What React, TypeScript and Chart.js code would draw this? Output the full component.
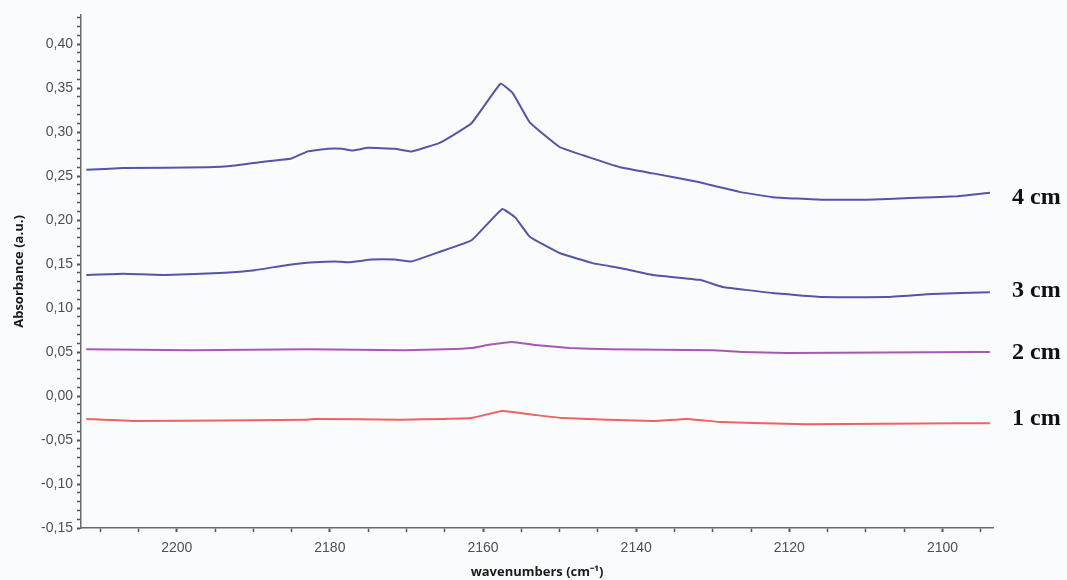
import React, { useEffect, useRef } from "react";
import { Chart, registerables } from "chart.js";

Chart.register(...registerables);

// wavenumber (cm-1), absorbance (a.u.)
const x4cm = [2211.8, 2207.0, 2195.9, 2192.4, 2188.9, 2185.0, 2182.9, 2180.3, 2178.4, 2177.1, 2175.0, 2171.5, 2169.3, 2165.6, 2161.5, 2157.7, 2156.1, 2153.9, 2150.0, 2146.4, 2142.1, 2137.8, 2131.7, 2130.4, 2126.5, 2122.2, 2115.6, 2109.9, 2104.3, 2098.1, 2093.8];
const y4cm = [0.257, 0.259, 0.260, 0.262, 0.266, 0.270, 0.278, 0.281, 0.281, 0.279, 0.282, 0.281, 0.278, 0.288, 0.310, 0.355, 0.344, 0.311, 0.283, 0.272, 0.260, 0.253, 0.243, 0.240, 0.232, 0.226, 0.223, 0.223, 0.225, 0.227, 0.231];

const x3cm = [2211.8, 2207.0, 2201.5, 2193.7, 2189.8, 2185.5, 2182.0, 2179.3, 2177.6, 2174.5, 2171.5, 2169.3, 2165.6, 2161.5, 2157.5, 2155.8, 2153.9, 2150.0, 2145.7, 2142.1, 2137.8, 2131.7, 2128.7, 2122.2, 2115.6, 2107.3, 2101.3, 2093.8];
const y3cm = [0.1375, 0.139, 0.1375, 0.140, 0.143, 0.149, 0.152, 0.153, 0.152, 0.155, 0.155, 0.153, 0.164, 0.177, 0.2125, 0.203, 0.181, 0.1625, 0.151, 0.1455, 0.1375, 0.132, 0.124, 0.117, 0.1125, 0.1125, 0.116, 0.118];

const x2cm = [2211.8, 2198.0, 2182.9, 2170.2, 2165.0, 2161.5, 2159.4, 2156.2, 2153.2, 2148.7, 2143.4, 2130.0, 2126.1, 2120.3, 2095.5, 2093.8];
const y2cm = [0.053, 0.052, 0.053, 0.052, 0.053, 0.0545, 0.058, 0.0615, 0.058, 0.0545, 0.053, 0.052, 0.050, 0.049, 0.050, 0.050];

const x1cm = [2211.8, 2205.2, 2182.9, 2182.0, 2170.6, 2165.0, 2161.5, 2157.5, 2153.2, 2149.6, 2137.8, 2133.4, 2129.1, 2117.7, 2097.7, 2093.8];
const y1cm = [-0.026, -0.0285, -0.027, -0.026, -0.027, -0.026, -0.025, -0.017, -0.0215, -0.025, -0.0285, -0.026, -0.0295, -0.032, -0.031, -0.031];

const seriesLabels = ["4 cm", "3 cm", "2 cm", "1 cm"];
const seriesColors = ["#5454a8", "#5454a8", "#a45ab4", "#ee6262"];

const toPts = (xs: number[], ys: number[]) => xs.map((x, i) => ({ x, y: ys[i] }));

export default function App() {
  const ref = useRef<HTMLCanvasElement | null>(null);

  useEffect(() => {
    document.body.style.margin = "0";
    if (!ref.current) return;

    const bgPlugin = {
      id: "bg",
      beforeDraw(chart: any) {
        const ctx = chart.ctx;
        ctx.save();
        ctx.fillStyle = "#fafbfd";
        ctx.fillRect(0, 0, chart.width, chart.height);
        ctx.restore();
      },
    };

    const labelNudge = [4, -2, 0, -5];
    const endLabels = {
      id: "endLabels",
      afterDatasetsDraw(chart: any) {
        const ctx = chart.ctx;
        const ys = chart.scales.y;
        ctx.save();
        ctx.font = "bold 24px 'Liberation Serif', 'Times New Roman', serif";
        ctx.fillStyle = "#111";
        ctx.textBaseline = "middle";
        ctx.textAlign = "left";
        chart.data.datasets.forEach((ds: any, i: number) => {
          const last = ds.data[ds.data.length - 1];
          const py = ys.getPixelForValue(last.y);
          ctx.fillText(ds.label, chart.chartArea.right + 19, py + 1 + labelNudge[i]);
        });
        ctx.restore();
      },
    };

    const datasets = [
      toPts(x4cm, y4cm),
      toPts(x3cm, y3cm),
      toPts(x2cm, y2cm),
      toPts(x1cm, y1cm),
    ].map((data, i) => ({
      label: seriesLabels[i],
      data,
      borderColor: seriesColors[i],
      borderWidth: 2,
      pointRadius: 0,
      tension: 0.1,
      fill: false,
    }));

    const chart = new Chart(ref.current, {
      type: "line",
      data: { datasets },
      plugins: [bgPlugin, endLabels],
      options: {
        animation: false,
        responsive: false,
        maintainAspectRatio: false,
        layout: { padding: { top: 15, right: 74, left: 0, bottom: 0 } },
        plugins: { legend: { display: false }, tooltip: { enabled: false } },
        scales: {
          x: {
            type: "linear",
            reverse: true,
            min: 2093.4,
            max: 2212.5,
            afterFit(scale: any) {
              scale.height = 52;
            },
            border: { color: "#6a6a6a", width: 1.5 },
            grid: {
              drawOnChartArea: false,
              drawTicks: true,
              tickLength: 4,
              tickColor: "#555",
              tickWidth: (c: any) => (Math.round(c.tick.value) % 20 === 0 ? 2 : 1.5),
            },
            ticks: {
              stepSize: 5,
              includeBounds: false,
              autoSkip: false,
              maxRotation: 0,
              padding: 8,
              color: "#505050",
              font: { family: "'Liberation Sans', Arial, sans-serif", size: 14 },
              callback: (v: any) => {
                const r = Math.round(Number(v));
                return r % 20 === 0 ? String(r) : "";
              },
            },
            title: {
              display: true,
              text: "wavenumbers (cm⁻¹)",
              color: "#1a1a1a",
              font: { family: "'Open Sans', 'Liberation Sans', sans-serif", size: 13, weight: "bold" },
              padding: { top: 0, bottom: 0 },
            },
          },
          y: {
            type: "linear",
            min: -0.15,
            max: 0.433,
            afterFit(scale: any) {
              scale.width = 81;
            },
            border: { color: "#6a6a6a", width: 1.5 },
            grid: {
              drawOnChartArea: false,
              drawTicks: true,
              tickLength: 4,
              tickColor: "#555",
              tickWidth: (c: any) => (Math.round(c.tick.value * 100) % 5 === 0 ? 2 : 1.5),
            },
            ticks: {
              stepSize: 0.01,
              includeBounds: false,
              autoSkip: false,
              padding: 4,
              color: "#505050",
              font: { family: "'Liberation Sans', Arial, sans-serif", size: 14 },
              callback: (v: any) => {
                const n = Math.round(Number(v) * 100);
                if (n % 5 !== 0) return "";
                const r = n === 0 ? 0 : n / 100;
                return r.toFixed(2).replace(".", ",");
              },
            },
            title: {
              display: true,
              text: "Absorbance (a.u.)",
              color: "#1a1a1a",
              font: { family: "'Open Sans', 'Liberation Sans', sans-serif", size: 13, weight: "bold" },
              padding: { top: 11, bottom: 0 },
            },
          },
        },
      },
    } as any);

    return () => chart.destroy();
  }, []);

  return (
    <div style={{ position: "absolute", left: 0, top: 0, width: 1067, height: 580 }}>
      <canvas ref={ref} width={1067} height={580} style={{ width: 1067, height: 580, display: "block" }} />
    </div>
  );
}
